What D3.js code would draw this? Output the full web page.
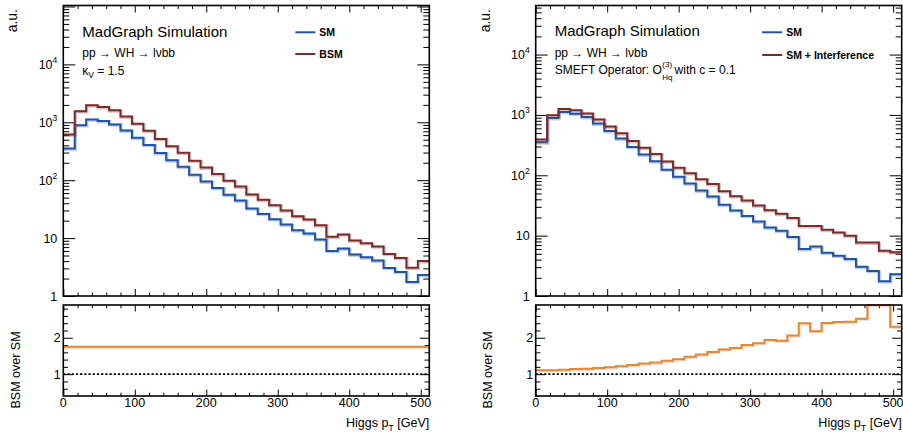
<!DOCTYPE html>
<html>
<head>
<meta charset="utf-8">
<script src="https://cdn.jsdelivr.net/npm/d3@7"></script>
<style>
body { margin: 0; background: #fff; }
text { font-family: "Liberation Sans", Arial, Helvetica, sans-serif; fill: #000; }
</style>
</head>
<body>
<div id="chart"></div>
<script>
// Higgs pT bins (lower edges, GeV), 16 GeV wide, last bin ends at 512
var binLow = [0, 16, 32, 48, 64, 80, 96, 112, 128, 144, 160, 176, 192, 208, 224, 240,
              256, 272, 288, 304, 320, 336, 352, 368, 384, 400, 416, 432, 448, 464, 480, 496];
var binEnd = 512;

// SM prediction (same sample in both panels)
var smValues = [352, 890, 1120, 1050, 920, 720, 540, 407, 295, 221, 170, 124, 94.5, 73, 56, 44.5,
                32.5, 26.2, 21.2, 17.1, 13.6, 12.0, 9.5, 6.0, 6.6, 5.2, 4.65, 4.1, 3.05, 2.6, 1.75, 2.3];

// kappa_V = 1.5 prediction
var bsmValues = [616, 1557.5, 1960, 1837.5, 1610, 1260, 945, 712.25, 516.25, 386.75, 297.5, 217, 165.375, 127.75, 98, 77.875,
                 56.875, 45.85, 37.1, 29.925, 23.8, 21, 16.625, 10.5, 11.55, 9.1, 8.1375, 7.175, 5.3375, 4.55, 3.0625, 4.025];

// SM + interference with O_Hq(3), c = 0.1
var intValues = [390.7, 987.9, 1254.4, 1197, 1058, 842.4, 642.6, 496.5, 368.75, 285.1, 224.4, 169.9, 133.2, 108.0, 86.2, 71.6,
                 54.6, 45.1, 38.2, 31.6, 26.4, 23.0, 19.6, 14.4, 14.4, 12.5, 11.3, 10.0, 7.7, 7.7, 5.6, 5.3];

var xTickLabels = [0, 100, 200, 300, 400, 500];

var width = 903, height = 435;
var panelW = 366;
var topY = 5.5, mainBottom = 296, ratioTop = 305, ratioBottom = 396;

var blue = "#2153a3", red = "#7a2b2b", orange = "#e0893a";

var svg = d3.select("#chart").append("svg")
    .attr("width", width)
    .attr("height", height);

function drawAxis(g, axisFn, scale, values, len, tx, ty) {
  g.append("g")
    .attr("transform", "translate(" + tx + "," + ty + ")")
    .call(axisFn(scale).tickValues(values).tickSize(-len).tickFormat(""))
    .call(function(s) {
      s.select(".domain").remove();
      s.selectAll("line").attr("stroke", "#000").attr("stroke-width", 1);
    });
}

function histPoints(vals) {
  var pts = binLow.map(function(e, i) { return [e, vals[i]]; });
  pts.push([binEnd, vals[vals.length - 1]]);
  return pts;
}

function drawPanel(opt) {
  var x0 = opt.x0;
  var g = svg.append("g");

  var x = d3.scaleLinear().domain([0, binEnd]).range([x0, x0 + panelW]);
  var y = d3.scaleLog().domain([1, opt.yMax]).range([mainBottom, topY]);
  var yr = d3.scaleLinear().domain([0.4, 2.9]).range([ratioBottom, ratioTop]).clamp(true);

  // ticks
  var xMajor = [0, 100, 200, 300, 400, 500];
  var xMinor = d3.range(20, 512, 20).filter(function(v) { return v % 100 != 0; });
  var yMajor = [1, 10, 100, 1000, 10000, 100000].filter(function(v) { return v <= opt.yMax; });
  var yMinor = [];
  [1, 10, 100, 1000, 10000].forEach(function(d) {
    for (var m = 2; m <= 9; m++) if (m * d <= opt.yMax) yMinor.push(m * d);
  });
  var rMajor = [1, 2];
  var rMinor = [0.6, 0.8, 1.2, 1.4, 1.6, 1.8, 2.2, 2.4, 2.6, 2.8];

  // upper pad axes
  drawAxis(g, d3.axisBottom, x, xMajor, 7, 0, mainBottom);
  drawAxis(g, d3.axisBottom, x, xMinor, 3.5, 0, mainBottom);
  drawAxis(g, d3.axisTop, x, xMajor, 7, 0, topY);
  drawAxis(g, d3.axisTop, x, xMinor, 3.5, 0, topY);
  drawAxis(g, d3.axisLeft, y, yMajor, 12, x0, 0);
  drawAxis(g, d3.axisLeft, y, yMinor, 6, x0, 0);
  drawAxis(g, d3.axisRight, y, yMajor, 12, x0 + panelW, 0);
  drawAxis(g, d3.axisRight, y, yMinor, 6, x0 + panelW, 0);

  // ratio pad axes
  drawAxis(g, d3.axisBottom, x, xMajor, 6.5, 0, ratioBottom);
  drawAxis(g, d3.axisBottom, x, xMinor, 3.3, 0, ratioBottom);
  drawAxis(g, d3.axisTop, x, xMajor, 6.5, 0, ratioTop);
  drawAxis(g, d3.axisTop, x, xMinor, 3.3, 0, ratioTop);
  drawAxis(g, d3.axisLeft, yr, rMajor, 9.5, x0, 0);
  drawAxis(g, d3.axisLeft, yr, rMinor, 4.7, x0, 0);
  drawAxis(g, d3.axisRight, yr, rMajor, 9.5, x0 + panelW, 0);
  drawAxis(g, d3.axisRight, yr, rMinor, 4.7, x0 + panelW, 0);

  // histograms
  var line = d3.line()
      .x(function(d) { return x(d[0]); })
      .y(function(d) { return y(d[1]); })
      .curve(d3.curveStepAfter);

  [[opt.sm, blue], [opt.alt, red]].forEach(function(h) {
    g.append("path")
      .attr("d", line(histPoints(h[0])))
      .attr("transform", "translate(0.7,0.8)")
      .attr("fill", "none")
      .attr("stroke", h[1])
      .attr("stroke-opacity", 0.28)
      .attr("stroke-width", 3.2);
    g.append("path")
      .attr("d", line(histPoints(h[0])))
      .attr("fill", "none")
      .attr("stroke", h[1])
      .attr("stroke-width", 2);
  });

  // ratio
  var ratio = opt.alt.map(function(v, i) { return v / opt.sm[i]; });
  var rline = d3.line()
      .x(function(d) { return x(d[0]); })
      .y(function(d) { return yr(d[1]); })
      .curve(d3.curveStepAfter);

  g.append("line")
    .attr("x1", x(0)).attr("x2", x(binEnd))
    .attr("y1", yr(1)).attr("y2", yr(1))
    .attr("stroke", "#000")
    .attr("stroke-width", 1.6)
    .attr("stroke-dasharray", "2.2,2");

  g.append("path")
    .attr("d", rline(histPoints(ratio)))
    .attr("transform", "translate(0.6,0.7)")
    .attr("fill", "none")
    .attr("stroke", orange)
    .attr("stroke-opacity", 0.3)
    .attr("stroke-width", 3);
  g.append("path")
    .attr("d", rline(histPoints(ratio)))
    .attr("fill", "none")
    .attr("stroke", orange)
    .attr("stroke-width", 2);

  // frames
  g.append("rect")
    .attr("x", x0).attr("y", topY)
    .attr("width", panelW).attr("height", mainBottom - topY)
    .attr("fill", "none").attr("stroke", "#000").attr("stroke-width", 1.6);
  g.append("rect")
    .attr("x", x0).attr("y", ratioTop)
    .attr("width", panelW).attr("height", ratioBottom - ratioTop)
    .attr("fill", "none").attr("stroke", "#000").attr("stroke-width", 1.6);

  // tick labels
  yMajor.filter(function(v) { return v <= 10000; }).forEach(function(v) {
    var t = g.append("text")
      .attr("x", x0 - 6)
      .attr("y", y(v) + 4.5)
      .attr("text-anchor", "end")
      .attr("font-size", "12.5px");
    if (v < 100) {
      t.text(v);
    } else {
      t.text("10");
      t.append("tspan").attr("dy", -6).attr("font-size", "8.5px").text(Math.round(Math.log10(v)));
    }
  });

  rMajor.forEach(function(v) {
    g.append("text")
      .attr("x", x0 - 2.5)
      .attr("y", yr(v) + 4.5)
      .attr("text-anchor", "end")
      .attr("font-size", "12.5px")
      .text(v);
  });

  xTickLabels.forEach(function(v) {
    g.append("text")
      .attr("x", x(v))
      .attr("y", 406.5)
      .attr("text-anchor", "middle")
      .attr("font-size", "12.5px")
      .text(v);
  });

  // axis titles
  g.append("text")
    .attr("transform", "translate(" + (x0 - 46) + "," + 9 + ") rotate(-90)")
    .attr("text-anchor", "end")
    .attr("font-size", "14px")
    .text("a.u.");

  g.append("text")
    .attr("transform", "translate(" + (x0 - 43.5) + "," + 370 + ") rotate(-90)")
    .attr("text-anchor", "middle")
    .attr("font-size", "12.5px")
    .text("BSM over SM");

  var xt = g.append("text")
    .attr("x", x0 + panelW)
    .attr("y", 427)
    .attr("text-anchor", "end")
    .attr("font-size", "12.5px");
  xt.append("tspan").text("Higgs p");
  xt.append("tspan").attr("dy", 3.5).attr("font-size", "9px").text("T");
  xt.append("tspan").attr("dy", -3.5).text(" [GeV]");

  // labels
  g.append("text")
    .attr("x", x0 + 19)
    .attr("y", opt.labelY[0])
    .attr("font-size", "15px")
    .text("MadGraph Simulation");

  g.append("text")
    .attr("x", x0 + 19)
    .attr("y", opt.labelY[1])
    .attr("font-size", "12px")
    .text("pp \u2192 WH \u2192 l\u03BDbb");

  opt.extraLabel(g, x0 + 19, opt.labelY[2]);

  // legend
  opt.legend.forEach(function(d) {
    g.append("line")
      .attr("x1", x0 + opt.legendX).attr("x2", x0 + opt.legendX + 20)
      .attr("y1", d.y).attr("y2", d.y)
      .attr("stroke", d.color).attr("stroke-width", 2);
    g.append("text")
      .attr("x", x0 + opt.legendX + 24)
      .attr("y", d.y + 4)
      .attr("font-size", "10.5px")
      .attr("font-weight", "bold")
      .text(d.label);
  });
}

drawPanel({
  x0: 63.3,
  yMax: 1.04e5,
  sm: smValues,
  alt: bsmValues,
  labelY: [37, 57, 75],
  extraLabel: function(g, lx, ly) {
    var t = g.append("text").attr("x", lx).attr("y", ly).attr("font-size", "12px");
    t.append("tspan").text("\u03BA");
    t.append("tspan").attr("dy", 3).attr("font-size", "8.5px").text("V");
    t.append("tspan").attr("dy", -3).text(" = 1.5");
  },
  legendX: 232,
  legend: [{label: "SM", color: blue, y: 32.3}, {label: "BSM", color: red, y: 54}]
});

drawPanel({
  x0: 535.7,
  yMax: 6.5e4,
  sm: smValues,
  alt: intValues,
  labelY: [36, 56.5, 74],
  extraLabel: function(g, lx, ly) {
    var t = g.append("text").attr("x", lx).attr("y", ly).attr("font-size", "12px")
      .text("SMEFT Operator: O");
    var w = t.node().getComputedTextLength();
    var sup = g.append("text").attr("x", lx + w + 0.5).attr("y", ly - 7.5)
      .attr("font-size", "8px").text("(3)");
    g.append("text").attr("x", lx + w + 0.5).attr("y", ly + 5.5)
      .attr("font-size", "8px").text("Hq");
    var sw = sup.node().getComputedTextLength();
    g.append("text").attr("x", lx + w + sw + 3).attr("y", ly)
      .attr("font-size", "12px").text("with c = 0.1");
  },
  legendX: 226.5,
  legend: [{label: "SM", color: blue, y: 32.3}, {label: "SM + Interference", color: red, y: 55}]
});
</script>
</body>
</html>
